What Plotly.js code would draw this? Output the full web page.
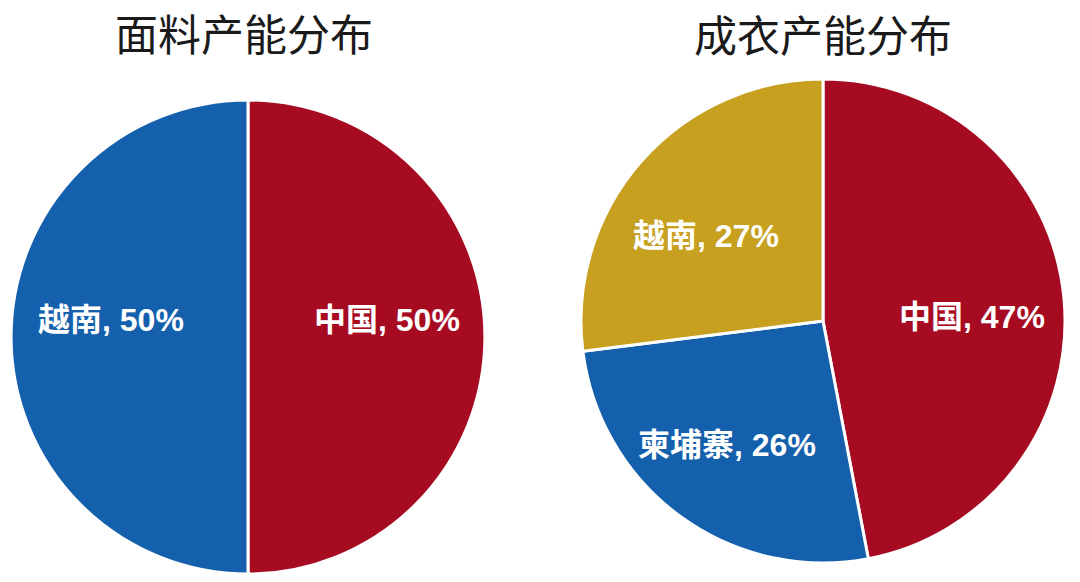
<!DOCTYPE html>
<html>
<head>
<meta charset="utf-8">
<script src="https://cdn.plot.ly/plotly-3.0.1.min.js"></script>
<style>
  html, body { margin: 0; padding: 0; background: #ffffff; }
  #chart { width: 1080px; height: 582px; }
</style>
</head>
<body>
<div id="chart"></div>
<script>
// 面料产能分布
const fabricLabels = ['中国', '越南'];
const fabricValues = [50, 50];

// 成衣产能分布
const garmentLabels = ['中国', '柬埔寨', '越南'];
const garmentValues = [47, 26, 27];

const chartTitles = ['面料产能分布', '成衣产能分布'];

const RED = '#A60B22';
const BLUE = '#1560AC';
const GOLD = '#C7A020';

const fabricColors = [RED, BLUE];
const garmentColors = [RED, BLUE, GOLD];

// label anchor points (paper px from top-left) for each slice
const fabricLabelPos = [[387, 320], [111, 320]];
const garmentLabelPos = [[972, 317], [727, 445], [706, 236]];

const W = 1080, H = 582;
const px = (x) => x / W;
const py = (y) => 1 - y / H;

function pieTrace(labels, values, colors, xr, yr) {
  return {
    type: 'pie',
    labels: labels,
    values: values,
    sort: false,
    direction: 'clockwise',
    rotation: 0,
    textinfo: 'none',
    hoverinfo: 'label+percent',
    showlegend: false,
    marker: { colors: colors, line: { color: '#ffffff', width: 3 } },
    domain: { x: [px(xr[0]), px(xr[1])], y: [py(yr[1]), py(yr[0])] }
  };
}

const labelFont = {
  family: '"Liberation Sans", Arial, "Noto Sans CJK SC", sans-serif',
  size: 32,
  color: '#ffffff',
  weight: 'bold'
};

function sliceAnnotations(labels, values, pos) {
  return labels.map((lab, i) => ({
    text: '<b>' + lab + ', ' + values[i] + '%</b>',
    x: px(pos[i][0]), y: py(pos[i][1]),
    xref: 'paper', yref: 'paper',
    xanchor: 'center', yanchor: 'middle',
    showarrow: false,
    font: labelFont
  }));
}

const titleFont = { family: '"Noto Sans CJK SC", sans-serif', size: 43, color: '#1a1a1a' };

const annotations = [
  { text: chartTitles[0], x: px(244), y: py(32), xref: 'paper', yref: 'paper',
    xanchor: 'center', yanchor: 'middle', showarrow: false, font: titleFont },
  { text: chartTitles[1], x: px(823), y: py(33), xref: 'paper', yref: 'paper',
    xanchor: 'center', yanchor: 'middle', showarrow: false, font: titleFont }
].concat(
  sliceAnnotations(fabricLabels, fabricValues, fabricLabelPos),
  sliceAnnotations(garmentLabels, garmentValues, garmentLabelPos)
);

const data = [
  pieTrace(fabricLabels, fabricValues, fabricColors, [11, 485], [100, 574]),
  pieTrace(garmentLabels, garmentValues, garmentColors, [581, 1065], [79, 563])
];

const layout = {
  width: W,
  height: H,
  margin: { l: 0, r: 0, t: 0, b: 0 },
  paper_bgcolor: '#ffffff',
  plot_bgcolor: '#ffffff',
  annotations: annotations
};

Plotly.newPlot('chart', data, layout, { displayModeBar: false, staticPlot: true });
</script>
</body>
</html>
